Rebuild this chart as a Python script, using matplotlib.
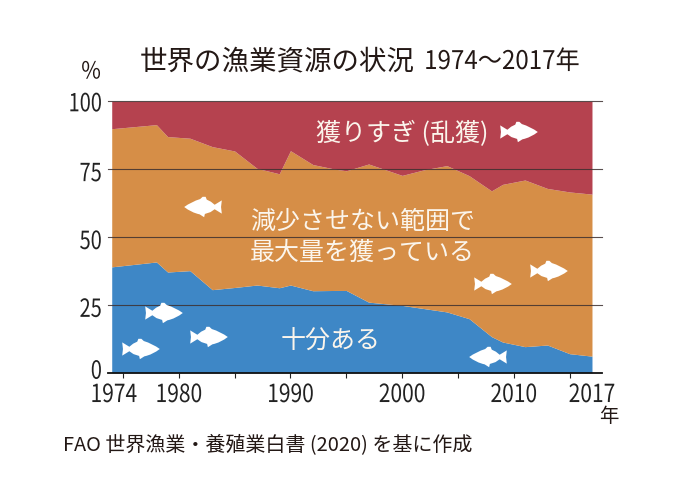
import matplotlib
matplotlib.use('Agg')
import matplotlib.pyplot as plt
from matplotlib.path import Path
from matplotlib.patches import PathPatch
from matplotlib.patheffects import AbstractPathEffect
from matplotlib.transforms import Affine2D

plt.rcParams['font.family'] = ['Noto Sans CJK JP', 'DejaVu Sans']

years = [1974, 1978, 1979, 1981, 1983, 1985, 1987, 1989, 1990, 1992, 1994, 1995,
         1997, 2000, 2002, 2004, 2006, 2008, 2009, 2011, 2013, 2015, 2017]
# 十分ある
sustainable = [39.0, 40.8, 37.1, 37.6, 30.6, 31.4, 32.3, 31.3, 32.3, 30.2, 30.3, 30.3,
               26.0, 24.8, 23.6, 22.4, 19.9, 13.3, 11.3, 9.6, 10.2, 7.0, 6.1]
# 減少させない範囲で最大量を獲っている (上端)
max_fished_top = [89.9, 91.4, 87.0, 86.4, 83.3, 81.7, 75.3, 73.3, 81.8, 76.7, 75.0, 74.4,
                  76.9, 72.7, 74.8, 76.3, 72.6, 67.0, 69.4, 71.0, 67.9, 66.6, 65.8]
top = [100] * len(years)

y_ticks = [0, 25, 50, 75, 100]
x_labels = [1974, 1980, 1990, 2000, 2010, 2017]
x_minor = [1975, 1980, 1985, 1990, 1995, 2000, 2005, 2010, 2015]

W, H = 686, 480


class Squeeze(AbstractPathEffect):
    # 数字を長体にする (anchor: 0=左, 0.5=中央, 1=右)
    def __init__(self, k, anchor=0.5):
        super().__init__()
        self.k = k
        self.anchor = anchor

    def draw_path(self, renderer, gc, tpath, affine, rgbFace=None):
        ext = tpath.get_extents()
        x0 = ext.x0 + self.anchor * ext.width
        squeeze = Affine2D().translate(-x0, 0).scale(self.k, 1).translate(x0, 0)
        renderer.draw_path(gc, tpath, squeeze + affine, rgbFace)


def nudge(label, dx, dy):
    label.set_transform(label.get_transform() + Affine2D().translate(dx, dy))


fig = plt.figure(figsize=(W / 100, H / 100), dpi=100)
ax = fig.add_axes([107.7 / W, 1 - 372.7 / H, 494 / W, 271.4 / H])
ax.set_xlim(1973.64, 2017.87)
ax.set_ylim(0, 100)

ax.fill_between(years, 0, sustainable, color='#3E87C6', lw=0)
ax.fill_between(years, sustainable, max_fished_top, color='#D68E47', lw=0)
ax.fill_between(years, max_fished_top, top, color='#B5424F', lw=0)

for v in y_ticks[1:]:
    ax.axhline(v, color='#3d3030', lw=0.8, alpha=0.85, clip_on=False)

for s in ['top', 'left', 'right']:
    ax.spines[s].set_visible(False)
ax.spines['bottom'].set_linewidth(1.3)
ax.spines['bottom'].set_color('#111111')

ax.set_yticks(y_ticks)
ax.set_yticklabels([str(v) for v in y_ticks], fontsize=18, color='#222222')
ax.tick_params(axis='y', length=0, pad=4)
for lab, dy in zip(ax.get_yticklabels(), [4, -2, -2, -2, 0]):
    lab.set_path_effects([Squeeze(0.8, 1)])
    nudge(lab, 0, dy)

ax.xaxis.remove_overlapping_locs = False
ax.set_xticks(x_labels)
ax.set_xticklabels([str(v) for v in x_labels], fontsize=18, color='#222222')
ax.set_xticks(x_minor, minor=True)
ax.tick_params(axis='x', which='major', length=0, pad=6)
ax.tick_params(axis='x', which='minor', length=3.5, width=0.8, color='#222222')
for lab in ax.get_xticklabels():
    lab.set_path_effects([Squeeze(0.84)])
nudge(ax.get_xticklabels()[0], 2, -1)
for lab in ax.get_xticklabels()[1:]:
    nudge(lab, 0, -1)

# 魚のシルエット
fish_shape = Path(
    [(-1.0, 0.65), (-0.96, 0.0), (-1.0, -0.65), (-0.62, -0.22),
     (-0.40, -0.50), (-0.10, -0.68), (-0.06, -1.0), (0.18, -0.72),
     (0.62, -0.55), (1.0, 0.0),
     (0.62, 0.52), (0.15, 0.78), (0.02, 1.0), (-0.14, 1.0), (-0.20, 0.72),
     (-0.42, 0.52), (-0.62, 0.22), (-1.0, 0.65), (-1.0, 0.65)],
    [Path.MOVETO, Path.LINETO, Path.LINETO, Path.LINETO,
     Path.LINETO, Path.LINETO, Path.LINETO, Path.LINETO,
     Path.CURVE3, Path.CURVE3,
     Path.CURVE3, Path.CURVE3, Path.LINETO, Path.LINETO, Path.LINETO,
     Path.LINETO, Path.LINETO, Path.LINETO, Path.CLOSEPOLY])


def add_fish(px, py, facing=1):
    tr = Affine2D().scale(18.8 * facing, 10.2).translate(px, H - py)
    ax.add_patch(PathPatch(fish_shape, facecolor='white', edgecolor='none',
                           transform=tr, zorder=5))


add_fish(141, 349)
add_fish(164, 313)
add_fish(209, 337)
add_fish(203, 207, -1)
add_fish(519, 132)
add_fish(493, 284)
add_fish(549, 271)
add_fish(488, 357, -1)


def put(px, py, s, size, color='#FBF5EC', ha='left', squeeze=None):
    t = fig.text(px / W, 1 - py / H, s, fontsize=size, color=color, ha=ha, va='center', zorder=6)
    if squeeze:
        t.set_path_effects([Squeeze(*squeeze)])
    return t


put(316, 134, '獲りすぎ (乱獲)', 18)
put(250, 222, '減少させない範囲で', 18)
put(250, 253, '最大量を獲っている', 18)
put(281, 342, '十分ある', 18)

put(140, 62, '世界の漁業資源の状況', 19.8, color='#231815')
put(424, 62, '1974～2017年', 18.5, color='#231815', squeeze=(0.94, 0))
put(91, 72, '%', 17, color='#231815', ha='center', squeeze=(0.9, 0.5))
put(609, 416, '年', 14, color='#231815', ha='center')
put(63, 445, 'FAO 世界漁業・養殖業白書 (2020) を基に作成', 14.4, color='#231815')

fig.savefig('out.png', dpi=100)
